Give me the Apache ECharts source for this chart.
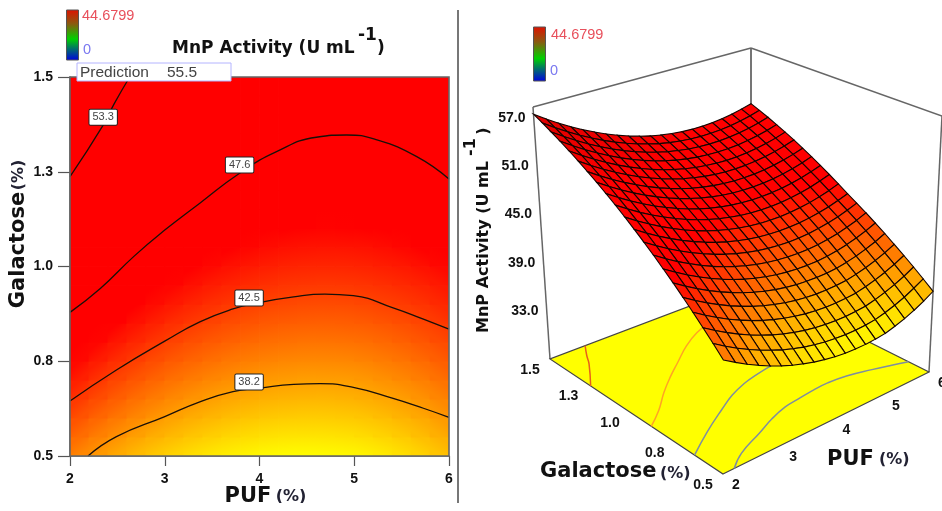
<!DOCTYPE html>
<html><head><meta charset="utf-8">
<style>html,body{margin:0;background:#fff}#c{width:942px;height:511px;filter:blur(0.55px)}</style>
<script src="https://cdn.jsdelivr.net/npm/echarts@6/dist/echarts.min.js"></script>
</head><body><div id="c"></div>
<script>
const pufLevels=[2,2.2,2.4,2.6,2.8,3,3.2,3.4,3.6,3.8,4,4.2,4.4,4.6,4.8,5,5.2,5.4,5.6,5.8,6];
const galLevels=[0.5,0.55,0.6,0.65,0.7,0.75,0.8,0.85,0.9,0.95,1,1.05,1.1,1.15,1.2,1.25,1.3,1.35,1.4,1.45,1.5];
const g050=[39.20,38.34,37.55,36.84,36.19,35.62,35.12,34.70,34.34,34.06,33.84,33.70,33.64,33.64,33.72,33.87,34.20,34.60,35.10,35.70,36.40];
const g055=[40.38,39.51,38.71,37.99,37.34,36.76,36.25,35.82,35.45,35.16,34.94,34.80,34.72,34.72,34.79,34.93,35.24,35.63,36.10,36.70,37.35];
const g060=[41.52,40.65,39.84,39.11,38.45,37.87,37.35,36.91,36.54,36.24,36.01,35.86,35.78,35.76,35.83,35.96,36.25,36.62,37.07,37.61,38.27];
const g065=[42.64,41.75,40.94,40.20,39.54,38.94,38.42,37.97,37.59,37.29,37.05,36.89,36.80,36.78,36.84,36.96,37.24,37.59,38.01,38.52,39.15];
const g070=[43.72,42.83,42.01,41.27,40.59,39.99,39.46,39.00,38.62,38.30,38.06,37.89,37.79,37.77,37.82,37.93,38.19,38.52,38.92,39.41,40.00];
const g075=[44.78,43.88,43.05,42.30,41.62,41.01,40.47,40.01,39.61,39.29,39.04,38.86,38.76,38.73,38.76,38.87,39.11,39.41,39.80,40.26,40.83];
const g080=[45.80,44.90,44.06,43.30,42.61,42.00,41.45,40.98,40.58,40.25,39.99,39.81,39.69,39.65,39.68,39.79,40.00,40.29,40.65,41.09,41.62];
const g085=[46.80,45.88,45.04,44.27,43.58,42.95,42.40,41.92,41.51,41.17,40.91,40.72,40.60,40.55,40.57,40.67,40.86,41.12,41.47,41.88,42.39];
const g090=[47.76,46.84,45.99,45.22,44.51,43.88,43.32,42.83,42.42,42.07,41.80,41.60,41.47,41.41,41.43,41.52,41.70,41.94,42.25,42.65,43.12];
const g095=[48.70,47.77,46.91,46.13,45.42,44.78,44.21,43.71,43.29,42.94,42.66,42.45,42.32,42.25,42.26,42.34,42.49,42.72,43.01,43.38,43.82];
const g100=[49.60,48.66,47.80,47.01,46.29,45.64,45.07,44.57,44.13,43.78,43.49,43.27,43.13,43.06,43.06,43.13,43.28,43.49,43.78,44.14,44.58];
const g105=[50.48,49.53,48.66,47.86,47.14,46.48,45.90,45.39,44.95,44.58,44.29,44.06,43.91,43.84,43.83,43.89,44.03,44.24,44.52,44.88,45.30];
const g110=[51.32,50.37,49.49,48.69,47.95,47.29,46.70,46.18,45.73,45.36,45.06,44.83,44.67,44.58,44.57,44.63,44.75,44.96,45.23,45.58,45.99];
const g115=[52.14,51.18,50.29,49.48,48.74,48.07,47.47,46.94,46.49,46.11,45.80,45.56,45.39,45.30,45.28,45.33,45.45,45.64,45.91,46.25,46.66];
const g120=[52.92,51.95,51.06,50.24,49.49,48.81,48.21,47.67,47.21,46.82,46.51,46.26,46.09,45.99,45.96,46.00,46.11,46.30,46.56,46.89,47.29];
const g125=[53.68,52.70,51.80,50.97,50.22,49.53,48.92,48.38,47.91,47.51,47.19,46.93,46.75,46.64,46.61,46.64,46.75,46.93,47.18,47.50,47.90];
const g130=[54.40,53.42,52.51,51.67,50.91,50.22,49.60,49.05,48.57,48.17,47.83,47.57,47.39,47.27,47.22,47.25,47.35,47.52,47.77,48.08,48.47];
const g135=[55.10,54.11,53.19,52.35,51.58,50.87,50.25,49.69,49.21,48.79,48.45,48.19,47.99,47.87,47.81,47.83,47.93,48.09,48.33,48.63,49.01];
const g140=[55.76,54.76,53.84,52.99,52.21,51.50,50.87,50.30,49.81,49.39,49.04,48.77,48.56,48.43,48.37,48.39,48.47,48.63,48.85,49.15,49.53];
const g145=[56.40,55.39,54.46,53.60,52.81,52.10,51.46,50.89,50.39,49.96,49.60,49.32,49.11,48.97,48.90,48.91,48.98,49.13,49.35,49.65,50.01];
const g150=[57.00,55.99,55.05,54.18,53.39,52.67,52.02,51.44,50.93,50.50,50.13,49.84,49.63,49.47,49.40,49.40,49.46,49.60,49.82,50.11,50.46];
const activity=[g050,g055,g060,g065,g070,g075,g080,g085,g090,g095,g100,g105,g110,g115,g120,g125,g130,g135,g140,g145,g150];

const contour382=[[2.19,0.5],[2.49,0.551],[3,0.604],[3.37,0.643],[3.72,0.67],[4,0.679],[4.36,0.689],[4.64,0.691],[4.99,0.681],[5.41,0.652],[5.73,0.626],[6,0.602]];
const contour425=[[2,0.645],[2.49,0.727],[3,0.803],[3.37,0.854],[3.72,0.888],[4,0.905],[4.36,0.92],[4.69,0.927],[4.99,0.923],[5.41,0.891],[5.73,0.861],[6,0.835]];
const contour476=[[2,0.879],[2.32,0.942],[2.68,1.028],[3,1.096],[3.37,1.167],[3.79,1.246],[4.18,1.303],[4.6,1.341],[4.92,1.347],[5.24,1.334],[5.66,1.29],[6,1.231]];
const contour533=[[2,1.237],[2.35,1.373],[2.47,1.431],[2.63,1.5]];
const contourLevels=["38.2","42.5","47.6","53.3"];
const contourLabelPoints=[[3.89,0.695],[3.89,0.917],[3.79,1.268],[2.35,1.394]];
const contourFloorColors=["#7f8ea0","#7f8ea0","#ffa424","#e8601a"];
const contours=[contour382,contour425,contour476,contour533];

const pufTicks=[2,3,4,5,6];
const galTickValues=[0.5,0.75,1,1.25,1.5];
const galTickLabels=["0.5","0.8","1.0","1.3","1.5"];
const activityTicks=[33,39,45,51,57];
const colorRange=[33.6,44.68];

const L={x:70,y:77,w:379,h:379};
const floorQuad=[[723,474],[929,372],[751,283],[550,359]];
const topQuad=[[724,192],[942,116],[751,48],[533,107]];
const vRange=[26.5,57.9];

function homography(q){
  const [p0,p1,p2,p3]=q;
  const dx1=p1[0]-p2[0],dx2=p3[0]-p2[0],sx=p0[0]-p1[0]+p2[0]-p3[0];
  const dy1=p1[1]-p2[1],dy2=p3[1]-p2[1],sy=p0[1]-p1[1]+p2[1]-p3[1];
  const den=dx1*dy2-dx2*dy1;
  const g=(sx*dy2-dx2*sy)/den,h=(dx1*sy-sx*dy1)/den;
  const a=p1[0]-p0[0]+g*p1[0],b=p3[0]-p0[0]+h*p3[0],c=p0[0];
  const d=p1[1]-p0[1]+g*p1[1],e=p3[1]-p0[1]+h*p3[1],f=p0[1];
  return (u,v)=>{const w=g*u+h*v+1;return [(a*u+b*v+c)/w,(d*u+e*v+f)/w];};
}
const floorH=homography(floorQuad),topH=homography(topQuad);
const lm=echarts.number.linearMap;
function project(x,z,v){
  const u=lm(x,[2,6],[0,1]),w=lm(z,[0.5,1.5],[0,1]);
  const a=floorH(u,w);
  if(v===undefined)return a;
  const b=topH(u,w),t=lm(v,vRange,[0,1]);
  return [a[0]+(b[0]-a[0])*t,a[1]+(b[1]-a[1])*t];
}
function color(v,shade){
  const t=Math.max(0,Math.min(1,lm(v,colorRange,[0,1]))),s=shade===undefined?1:shade;
  return 'rgb('+Math.round(255*s)+','+Math.round(255*(1-t)*s)+',0)';
}
const cells=[];
for(let j=0;j<galLevels.length-1;j++)for(let i=0;i<pufLevels.length-1;i++){
  cells.push([pufLevels[i],galLevels[j],pufLevels[i+1],galLevels[j+1],
    activity[j][i],activity[j][i+1],activity[j+1][i],activity[j+1][i+1]]);
}
function renderHeat(p,api){
  const a=api.coord([api.value(0),api.value(3)]),b=api.coord([api.value(2),api.value(1)]);
  const v00=api.value(4),v10=api.value(5),v01=api.value(6),v11=api.value(7);
  const m=(v00+v10+v01+v11)/4,gx=(v10+v11-v00-v01)/2,gy=-(v01+v11-v00-v10)/2;
  const s=Math.abs(gx)+Math.abs(gy)||1,k=0.5/s,span=k*(gx*gx+gy*gy);
  return {type:'rect',shape:{x:a[0]-0.4,y:a[1]-0.4,width:b[0]-a[0]+0.8,height:b[1]-a[1]+0.8},
    style:{fill:{type:'linear',x:0.5-k*gx,y:0.5-k*gy,x2:0.5+k*gx,y2:0.5+k*gy,
      colorStops:[{offset:0,color:color(m-span)},{offset:1,color:color(m+span)}]},stroke:null}};
}
function renderSurface(p,api){
  const x0=api.value(0),z0=api.value(1),x1=api.value(2),z1=api.value(3);
  const v00=api.value(4),v10=api.value(5),v01=api.value(6),v11=api.value(7);
  const q=[project(x0,z0,v00),project(x1,z0,v10),project(x1,z1,v11),project(x0,z1,v01)];
  let area=0;
  for(let i=0;i<4;i++){const n=q[(i+1)%4];area+=q[i][0]*n[1]-n[0]*q[i][1];}
  const shade=Math.min(1,0.62+Math.abs(area)/2/260);
  return {type:'polygon',shape:{points:q},
    style:{fill:color((v00+v10+v01+v11)/4,shade),stroke:'#140400',lineWidth:1.1}};
}
function renderFloorContour(p,api){
  const i=api.value(0);
  return {type:'polyline',shape:{points:contours[i].map(c=>project(c[0],c[1])),smooth:0.45},
    style:{fill:null,stroke:contourFloorColors[i],lineWidth:1.5}};
}
const bold='bold 14px "Liberation Sans"';
function txt(text,x,y,font,fill,align,rot,z){
  return {type:'text',x:x,y:y,rotation:rot||0,z:z||20,silent:true,
    style:{text:text,x:0,y:0,font:font,fill:fill||'#111',align:align||'center',verticalAlign:'middle'}};
}
function line(a,b,w,col,z){return {type:'line',z:z||1,silent:true,shape:{x1:a[0],y1:a[1],x2:b[0],y2:b[1]},style:{stroke:col||'#666',lineWidth:w||1.5}};}
function colorbar(x,y,w,h){
  return {type:'rect',z:20,silent:true,shape:{x:x,y:y,width:w,height:h},style:{stroke:'#555',lineWidth:1,
    fill:{type:'linear',x:0,y:0,x2:0,y2:1,colorStops:[{offset:0,color:'#e01000'},{offset:0.28,color:'#8a5a10'},{offset:0.58,color:'#00d000'},{offset:0.78,color:'#006a70'},{offset:1,color:'#0000e0'}]}}};
}
const small='14.5px "Liberation Sans"';
const nameF='bold 21px "DejaVu Sans"',pctF='bold 16px "DejaVu Sans"';
const gfx=[
  line([458,10],[458,503],2,'#777',1),
  colorbar(66.5,10,12,50), txt('44.6799',82,16,small,'#e8505c','left'), txt('0',83,50,small,'#7a78f0','left'),
  colorbar(533.5,27,12,54), txt('44.6799',551,35,small,'#e8505c','left'), txt('0',550,71,small,'#7a78f0','left'),
  txt('MnP Activity (U mL',172,49,'bold 17px "DejaVu Sans"','#111','left'),
  txt('-1',358,36,'bold 17px "DejaVu Sans"','#111','left'),
  txt(')',377,49,'bold 17px "DejaVu Sans"','#111','left'),
  {type:'rect',z:21,silent:true,shape:{x:L.x,y:L.y,width:L.w,height:L.h},style:{fill:null,stroke:'#666',lineWidth:1.6}},
  {type:'rect',z:22,silent:true,shape:{x:77,y:63,width:154,height:18},style:{fill:'#fff',stroke:'#b4b4ff',lineWidth:1}},
  txt('Prediction',80,73,'15.5px "Liberation Sans"','#444','left',0,23),
  txt('55.5',167,73,'15.5px "Liberation Sans"','#444','left',0,23),
  txt('Galactose',19,250,nameF,'#111','center',Math.PI/2),
  txt('(%)',19,175,pctF,'#223','center',Math.PI/2),
  txt('PUF',248,497,nameF,'#111'),
  txt('(%)',291,497,pctF,'#223'),
  txt('MnP Activity (U mL',484,247,'bold 16px "DejaVu Sans"','#111','center',Math.PI/2),
  txt('-1',471,147,'bold 16px "DejaVu Sans"','#111','center',Math.PI/2),
  txt(')',484,131,'bold 16px "DejaVu Sans"','#111','center',Math.PI/2),
  txt('Galactose',540,472,nameF,'#111','left'),
  txt('(%)',660,474,pctF,'#223','left'),
  txt('PUF',827,460,nameF,'#111','left'),
  txt('(%)',879,460,pctF,'#223','left'),
  line(topQuad[3],topQuad[2]),line(topQuad[2],topQuad[1]),
  line(topQuad[2],floorQuad[2],1.8),line(topQuad[3],floorQuad[3]),line(topQuad[1],floorQuad[1]),
  {type:'polygon',z:2,silent:true,shape:{points:floorQuad},style:{fill:'#ffff00',stroke:'#444',lineWidth:1.2}},
  {type:'rect',z:40,silent:true,shape:{x:0,y:503,width:942,height:8},style:{fill:'#fff'}}
];
activityTicks.forEach(t=>{const p=project(2,1.5,t);gfx.push(txt(t.toFixed(1),p[0]-8,p[1]+4,bold,'#111','right'));});
galTickValues.forEach((t,i)=>{const p=project(2,t);gfx.push(txt(galTickLabels[i],p[0]-20,p[1]+11,bold));});
pufTicks.forEach(t=>{const p=project(t,0.5);gfx.push(txt(String(t),p[0]+13,p[1]+11,bold));});

const labelStyle={show:true,position:'inside',fontFamily:'"Liberation Sans"',fontSize:11,color:'#444',backgroundColor:'#fff',borderColor:'#222',borderWidth:1,borderRadius:1,padding:[2,3]};
const series=[
  {type:'custom',coordinateSystem:'cartesian2d',xAxisIndex:0,yAxisIndex:0,z:3,silent:true,clip:true,animation:false,renderItem:renderHeat,data:cells,encode:{x:0,y:1}},
  {type:'custom',coordinateSystem:'none',z:4,silent:true,animation:false,renderItem:renderFloorContour,data:contours.map((c,i)=>[i])},
  {type:'custom',coordinateSystem:'none',z:6,silent:true,animation:false,renderItem:renderSurface,data:cells.slice().reverse()},
  {type:'scatter',xAxisIndex:0,yAxisIndex:0,z:8,silent:true,animation:false,symbolSize:1,itemStyle:{opacity:0},
    data:contourLabelPoints.map((p,i)=>({value:p,label:Object.assign({},labelStyle,{formatter:contourLevels[i],opacity:1})})),label:labelStyle}
];
contours.forEach((c,i)=>series.push({type:'line',xAxisIndex:0,yAxisIndex:0,z:7,silent:true,animation:false,showSymbol:false,smooth:0.5,data:c,lineStyle:{color:'#1a1008',width:1.3}}));

const axisTxt={fontFamily:'"Liberation Sans"',fontWeight:'bold',fontSize:14,color:'#111'};
const chart=echarts.init(document.getElementById('c'));
chart.setOption({
  animation:false,backgroundColor:'#fff',
  grid:{left:L.x,top:L.y,width:L.w,height:L.h},
  xAxis:{type:'value',min:2,max:6,interval:1,splitLine:{show:false},
    axisLine:{show:true,lineStyle:{color:'#666',width:1.5}},axisTick:{length:10,lineStyle:{color:'#555',width:1.2}},
    axisLabel:Object.assign({},axisTxt,{margin:16,formatter:v=>pufTicks.includes(v)?String(v):''})},
  yAxis:{type:'value',min:0.5,max:1.5,interval:0.25,splitLine:{show:false},
    axisLine:{show:true,lineStyle:{color:'#666',width:1.5}},axisTick:{length:12,lineStyle:{color:'#555',width:1.2}},
    axisLabel:Object.assign({},axisTxt,{margin:17,formatter:v=>galTickLabels[galTickValues.indexOf(v)]})},
  graphic:{elements:gfx},
  series:series
});
</script></body></html>
